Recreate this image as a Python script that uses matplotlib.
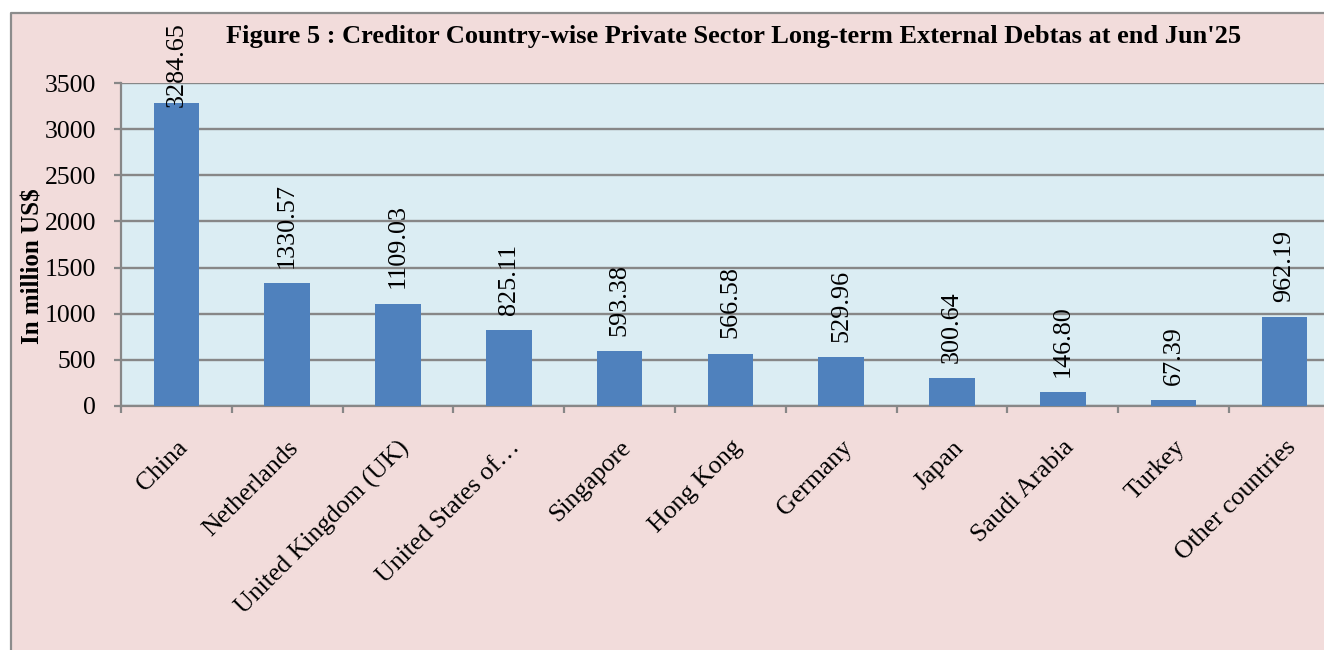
import matplotlib
matplotlib.use("Agg")
import matplotlib.pyplot as plt
from matplotlib.patches import Rectangle
from matplotlib.lines import Line2D
import numpy as np

countries = ["China", "Netherlands", "United Kingdom (UK)", "United States of\u2026",
             "Singapore", "Hong Kong", "Germany", "Japan", "Saudi Arabia",
             "Turkey", "Other countries"]
debt = [3284.65, 1330.57, 1109.03, 825.11, 593.38, 566.58, 529.96,
        300.64, 146.80, 67.39, 962.19]
yticks = [0, 500, 1000, 1500, 2000, 2500, 3000, 3500]

PINK = "#F2DCDB"
PLOT_BG = "#DBEDF3"
BAR = "#4F81BD"
GRID = "#878787"

plt.rcParams["font.family"] = ["Liberation Serif", "DejaVu Serif"]

W, H = 1324, 650
fig = plt.figure(figsize=(W / 100, H / 100), dpi=100)
fig.patch.set_facecolor("white")

# chart frame: pink fill, grey edge on the left and top only
fx, fy = 10.5 / W, 1 - 12.5 / H
fig.add_artist(Rectangle((fx, 0), 1 - fx, fy, transform=fig.transFigure,
                         facecolor=PINK, edgecolor="none", zorder=-10))
fig.add_artist(Line2D([fx, fx, 1], [0, fy, fy], transform=fig.transFigure,
                      color="#8C8C8C", linewidth=1.6, zorder=-9))

left, right, bottom, top = 121, 121 + 11 * 110.8, 406, 83
ax = fig.add_axes([left / W, 1 - bottom / H, (right - left) / W, (bottom - top) / H])
ax.set_facecolor(PLOT_BG)

x = np.arange(len(countries))
ax.bar(x, debt, width=0.41, color=BAR, zorder=3)

ax.set_ylim(0, 3500)
ax.set_xlim(-0.5, len(countries) - 0.5)
ax.set_yticks(yticks)
ax.set_yticklabels([str(t) for t in yticks], fontsize=18.5)
ax.yaxis.grid(True, color=GRID, linewidth=1.7, zorder=1)
ax.set_axisbelow(True)

ax.set_xticks(x)
ax.set_xticklabels(countries, rotation=45, ha="right", va="top",
                   rotation_mode="anchor", fontsize=18.5)
ax.set_xticks(np.arange(len(countries) + 1) - 0.5, minor=True)
ax.tick_params(axis="x", which="major", length=0, pad=22)
ax.tick_params(axis="x", which="minor", length=5, width=1.6, color=GRID)
ax.tick_params(axis="y", length=5, width=1.6, color=GRID, pad=13)

for side in ["top", "right"]:
    ax.spines[side].set_visible(False)
for side in ["left", "bottom"]:
    ax.spines[side].set_color(GRID)
    ax.spines[side].set_linewidth(1.6)

# value labels above bars, kept inside the chart for the tallest bar
cap = 3077
for xi, v in zip(x, debt):
    ax.annotate(f"{v:.2f}", (xi, min(v, cap)), xytext=(0, 11),
                textcoords="offset points", rotation=90, ha="center",
                va="bottom", fontsize=18.8, zorder=4, annotation_clip=False)

ax.set_ylabel("In million US$", fontsize=18, fontweight="bold", va="center")
ax.yaxis.set_label_coords((33 - left) / (right - left), (bottom - 266) / (bottom - top))

fig.text(734 / W, 1 - 36 / H,
         "Figure 5 : Creditor Country-wise Private Sector Long-term External Debtas at end Jun'25",
         ha="center", va="center", fontsize=19, fontweight="bold")

fig.savefig("out.png", dpi=100)
